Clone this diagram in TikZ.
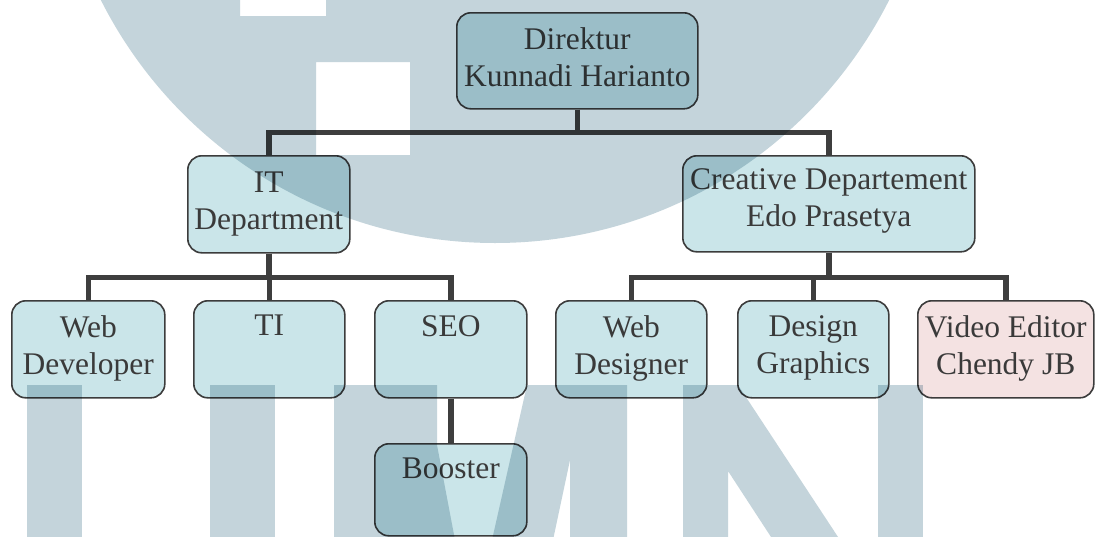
\documentclass[tikz,border=0pt]{standalone}
\usepackage{fontspec}
\setmainfont{Liberation Serif}
\definecolor{boxfill}{RGB}{202,229,233}
\definecolor{pinkfill}{RGB}{244,226,226}
\definecolor{boxline}{RGB}{60,60,60}
\definecolor{linkcol}{RGB}{62,62,62}
\definecolor{txtcol}{RGB}{58,58,58}
\definecolor{wmark}{RGB}{196,212,219}
\tikzset{
  orgbox/.style={draw=boxline, line width=1.6pt, rounded corners=14pt,
    fill=boxfill, inner sep=0pt, anchor=north west},
  lbl/.style={inner sep=0pt, align=center, anchor=north, text=txtcol,
    font=\fontsize{31.5}{37}\selectfont},
  conn/.style={draw=linkcol, line width=5.5pt}
}
\begin{document}
\begin{tikzpicture}[x=1pt,y=-1pt]
\useasboundingbox (0,0) rectangle (1100,536);
\fill[white] (0,0) rectangle (1100,536);

% boxes
\node[orgbox, minimum width=241pt, minimum height=96pt] (dir) at (456,12) {};
\node[orgbox, minimum width=162pt, minimum height=97pt] (it) at (187,155) {};
\node[orgbox, minimum width=292pt, minimum height=96pt] (cre) at (682,155) {};
\node[orgbox, minimum width=153pt, minimum height=97pt] (wdev) at (11,300) {};
\node[orgbox, minimum width=151pt, minimum height=97pt] (ti) at (193,300) {};
\node[orgbox, minimum width=152pt, minimum height=97pt] (seo) at (374,300) {};
\node[orgbox, minimum width=151pt, minimum height=97pt] (wdes) at (555,300) {};
\node[orgbox, minimum width=151pt, minimum height=97pt] (dg) at (737,300) {};
\node[orgbox, fill=pinkfill, minimum width=176pt, minimum height=97pt] (ve) at (917,300) {};
\node[orgbox, minimum width=152pt, minimum height=92pt] (boost) at (374,443) {};

% labels, set at the top of each box
\node[lbl] (dirT) at ([yshift=-15pt]dir.north) {Direktur\\Kunnadi Harianto};
\node[lbl] (itT) at ([yshift=-17pt]it.north) {IT\\Department};
\node[lbl] (creT) at ([yshift=-13pt]cre.north) {Creative Departement\\Edo Prasetya};
\node[lbl] (wdevT) at ([yshift=-15pt]wdev.north) {Web\\Developer};
\node[lbl] (tiT) at ([yshift=-15pt]ti.north) {TI};
\node[lbl] (seoT) at ([yshift=-15pt]seo.north) {SEO};
\node[lbl] (wdesT) at ([yshift=-15pt]wdes.north) {Web\\Designer};
\node[lbl] (dgT) at ([yshift=-15pt]dg.north) {Design\\Graphics};
\node[lbl] (veT) at ([yshift=-15pt]ve.north) {Video Editor\\Chendy JB};
\node[lbl] (boostT) at ([yshift=-15pt]boost.north) {Booster};

% connectors
\draw[conn] (dir.south) -- ++(0,23) -| (it.north);
\draw[conn] (dir.south) -- ++(0,23) -| (cre.north);
\draw[conn] (it.south) -- ++(0,24) -| (wdev.north);
\draw[conn] (it.south) -- ++(0,24) -| (ti.north);
\draw[conn] (it.south) -- ++(0,24) -| (seo.north);
\draw[conn] (cre.south) -- ++(0,25) -| (wdes.north);
\draw[conn] (cre.south) -- ++(0,25) -| (dg.north);
\draw[conn] (cre.south) -- ++(0,25) -| (ve.north);
\draw[conn] (seo.south) -- (boost.north);

% background emblem, tinted over everything
\begin{scope}[blend mode=multiply]
  \fill[wmark, even odd rule] (495,-198) circle[radius=441pt]
    (240,-5) rectangle (326,16)
    (316,62) rectangle (410,155);
  \fill[wmark] (27,385) rectangle (82,540);
  \fill[wmark] (210,385) rectangle (275,540);
  \fill[wmark] (334,385) -- (437,385) -- (437,445) -- (455,540) -- (334,540) -- cycle;
  \fill[wmark] (527,385) -- (627,385) -- (627,540) -- (570,540) -- (570,460)
    -- (553,540) -- (492,540) -- cycle;
  \fill[wmark] (683,385) -- (738,385) -- (840,540) -- (773,540) -- (728,471)
    -- (728,540) -- (683,540) -- cycle;
  \fill[wmark] (878,385) rectangle (923,540);
\end{scope}
\end{tikzpicture}
\end{document}
